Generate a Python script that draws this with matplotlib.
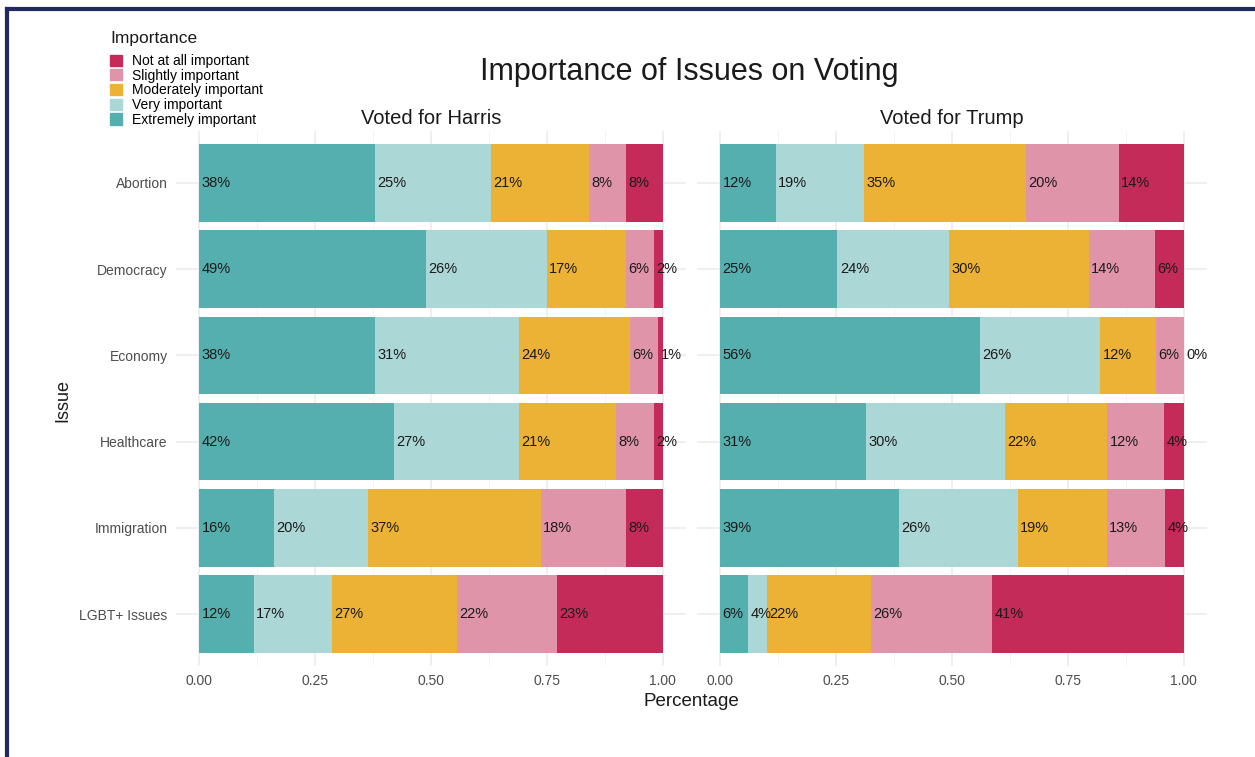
import matplotlib.pyplot as plt
from matplotlib.patches import Patch
from matplotlib.lines import Line2D

plt.rcParams['font.family'] = ['Liberation Sans', 'DejaVu Sans']

issues = ["Abortion", "Democracy", "Economy", "Healthcare", "Immigration", "LGBT+ Issues"]
levels = ["Extremely important", "Very important", "Moderately important",
          "Slightly important", "Not at all important"]
colors = ["#56AFAF", "#ABD8D6", "#EBB235", "#E094A9", "#C42B58"]

# shares per issue, in order Extremely -> Not at all
harris = [
    [0.38, 0.25, 0.21, 0.08, 0.08],
    [0.49, 0.26, 0.17, 0.06, 0.02],
    [0.38, 0.31, 0.24, 0.06, 0.01],
    [0.42, 0.27, 0.21, 0.08, 0.02],
    [0.161, 0.203, 0.373, 0.183, 0.08],
    [0.118, 0.169, 0.269, 0.216, 0.228],
]
trump = [
    [0.12, 0.19, 0.35, 0.20, 0.14],
    [0.253, 0.241, 0.301, 0.142, 0.063],
    [0.56, 0.26, 0.12, 0.06, 0.0],
    [0.314, 0.301, 0.22, 0.123, 0.042],
    [0.386, 0.256, 0.192, 0.126, 0.04],
    [0.06, 0.041, 0.224, 0.261, 0.414],
]
panels = [("Voted for Harris", harris), ("Voted for Trump", trump)]

fig = plt.figure(figsize=(12.55, 7.57), dpi=100)

# navy frame (only left and top edges show)
fig.add_artist(Line2D([6.5 / 1255, 6.5 / 1255], [0, 1 - 9 / 757], color="#1F2A5E", lw=3))
fig.add_artist(Line2D([6.5 / 1255, 1], [1 - 9 / 757, 1 - 9 / 757], color="#1F2A5E", lw=3))

lefts = [176 / 1255, 697 / 1255]
for (name, data), left in zip(panels, lefts):
    ax = fig.add_axes([left, 1 - 666 / 757, 510 / 1255, 535 / 757])
    for i, row in enumerate(data):
        start = 0
        for j, v in enumerate(row):
            ax.barh(i, v, left=start, height=0.9, color=colors[j], zorder=2)
            ax.text(start + 0.005, i, f"{round(v * 100)}%", va="center", ha="left",
                    fontsize=10.5, color="#1A1A1A", zorder=3)
            start += v
    ax.set_xlim(-0.05, 1.05)
    ax.set_ylim(len(issues) - 0.4, -0.6)
    ax.set_xticks([0, 0.25, 0.5, 0.75, 1.0])
    ax.set_xticklabels(["0.00", "0.25", "0.50", "0.75", "1.00"])
    ax.set_xticks([0.125, 0.375, 0.625, 0.875], minor=True)
    ax.set_yticks(range(len(issues)))
    if left == lefts[0]:
        ax.set_yticklabels(issues)
    else:
        ax.set_yticklabels([])
    ax.grid(True, which="major", color="#EBEBEB", lw=1.1, zorder=0)
    ax.grid(True, which="minor", axis="x", color="#F2F2F2", lw=0.6, zorder=0)
    ax.tick_params(length=0, labelsize=10, labelcolor="#4D4D4D", pad=6)
    ax.tick_params(which="minor", length=0)
    for s in ax.spines.values():
        s.set_visible(False)
    ax.set_title(name, fontsize=14.5, color="#1A1A1A", pad=5)

fig.text(689 / 1255, 1 - 72 / 757, "Importance of Issues on Voting", ha="center",
         va="center", fontsize=22, color="#1A1A1A")
fig.text(691 / 1255, 1 - 702 / 757, "Percentage", ha="center", va="center",
         fontsize=13.5, color="#1A1A1A")
fig.text(63 / 1255, 1 - 400 / 757, "Issue", ha="center", va="center",
         fontsize=13, rotation=90, color="#1A1A1A")

fig.text(110 / 1255, 1 - 38 / 757, "Importance", ha="left", va="center",
         fontsize=12.5, color="#1A1A1A")
handles = [Patch(color=colors[k], label=levels[k]) for k in range(4, -1, -1)]
leg = fig.legend(handles=handles, loc="upper left",
                 bbox_to_anchor=(104 / 1255, 1 - 48.5 / 757), frameon=False,
                 fontsize=10, handlelength=0.9, handleheight=0.85,
                 labelspacing=0.05, handletextpad=0.75, borderaxespad=0)

fig.savefig("out.png", dpi=100, facecolor="white")
